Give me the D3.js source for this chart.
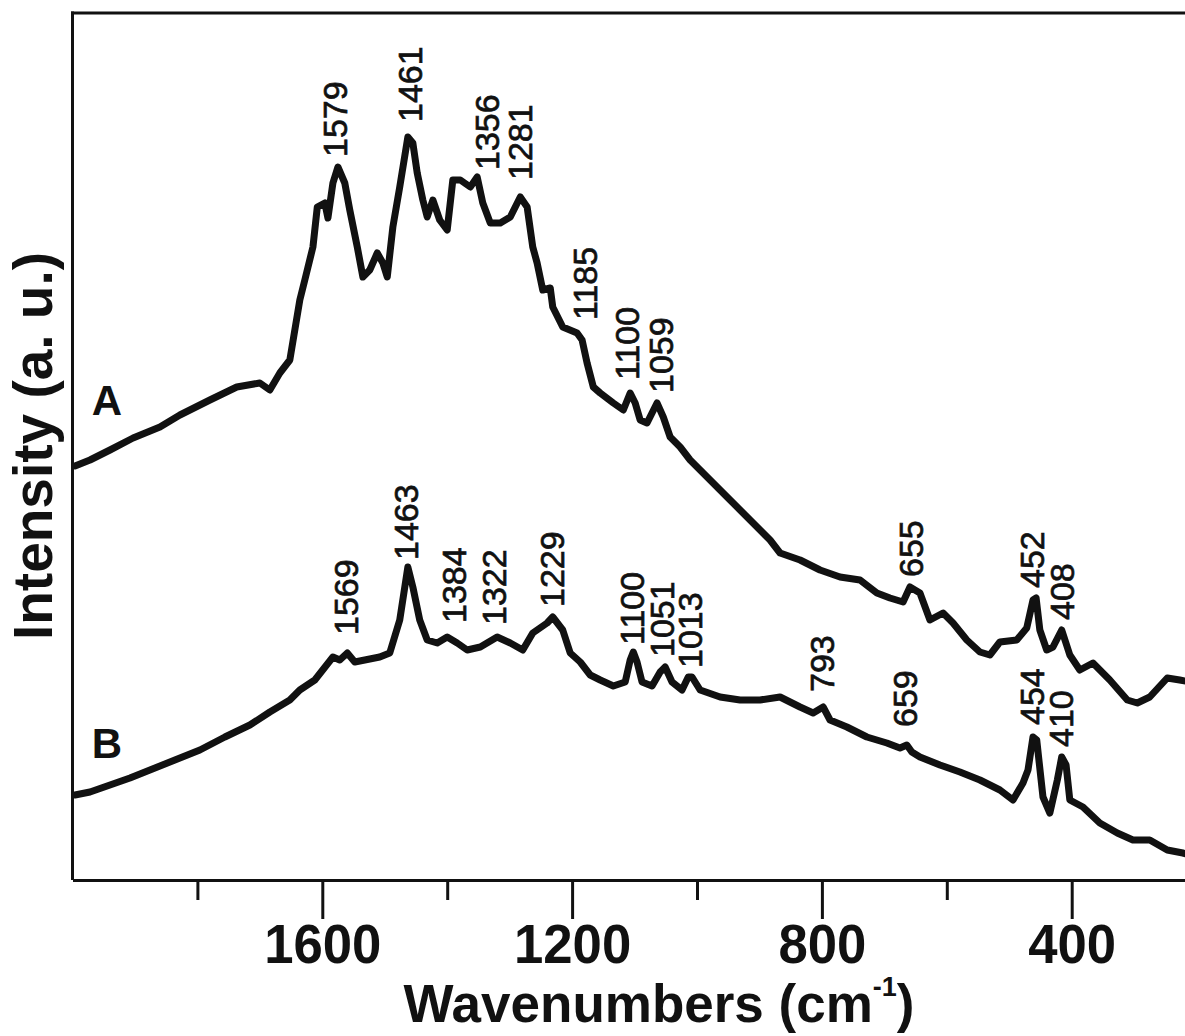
<!DOCTYPE html>
<html><head><meta charset="utf-8">
<script src="https://cdn.jsdelivr.net/npm/d3@7"></script>
<style>html,body{margin:0;padding:0;background:#fff;} svg{display:block;}</style>
</head><body>
<svg id="chart" width="1185" height="1036"></svg>
<script>
// ---- Data ----
const wavenumbersA = [1996,1972,1940,1903,1860,1828,1780,1737,1700,1684,1668,1652,1636,1628,1615,1608,1596,1591,1583,1575,1564,1556,1544,1535,1524,1512,1503,1496,1487,1476,1463,1455,1448,1439,1432,1423,1412,1400,1391,1379,1363,1352,1343,1331,1315,1299,1283,1272,1263,1256,1247,1235,1231,1215,1192,1184,1176,1166,1155,1134,1118,1107,1099,1091,1080,1064,1054,1043,1027,1011,995,979,963,947,931,915,899,883,867,835,803,771,739,712,691,670,659,643,627,606,590,568,547,531,515,488,472,462,457,451,440,430,416,403,387,366,339,311,295,275,247,227,210];
const intensityA   = [414,420,430,442,453,465,480,493,497,490,507,520,580,600,633,673,677,662,697,713,697,670,633,603,610,627,617,603,653,693,743,737,707,680,663,680,660,650,700,700,693,703,677,657,657,663,683,673,633,617,590,592,573,553,547,540,517,493,487,477,470,487,477,460,457,477,463,443,433,420,410,400,390,380,370,360,350,340,327,320,310,303,300,287,282,278,293,287,260,267,257,240,228,225,238,240,252,280,282,250,230,233,250,225,210,217,200,180,177,183,202,200,198];

const wavenumbersB = [1996,1972,1940,1908,1876,1836,1796,1756,1716,1684,1652,1636,1612,1583,1572,1560,1548,1532,1508,1492,1476,1463,1455,1444,1432,1416,1400,1384,1368,1347,1320,1299,1279,1263,1240,1231,1215,1203,1187,1171,1155,1134,1115,1107,1102,1096,1088,1072,1059,1051,1040,1024,1014,1008,995,963,931,899,867,851,835,814,798,787,760,728,696,675,664,656,643,611,579,547,515,494,478,470,462,456,446,435,423,416,409,403,382,355,327,302,275,247,222,210];
const intensityB   = [85,88,95,102,110,120,130,143,155,168,180,190,200,223,220,227,218,220,223,227,260,313,293,260,240,237,243,237,230,233,243,237,230,247,257,263,250,227,218,205,200,194,198,220,228,218,198,194,208,213,198,190,203,203,190,183,180,180,183,178,173,167,173,160,153,143,137,132,135,128,123,115,108,100,90,80,97,110,143,140,83,67,100,123,115,80,73,57,47,40,40,30,27,25];

// peak annotations: text, wavenumber of label centre, intensity at label foot
const peakTextA = ["1579","1461","1356","1281","1185","1100","1059","655","452","408"];
const peakWnA   = [1579,1460,1337,1283,1179,1112,1058,657,463,415];
const peakIntA  = [723,758,710,700,560,500,487,303,292,260];

const peakTextB = ["1569","1463","1384","1322","1229","1100","1051","1013","793","659","454","410"];
const peakWnB   = [1562,1466,1389,1325,1232,1104,1056,1011,800,667,463,417];
const peakIntB  = [245,320,257,255,273,235,223,212,188,153,155,133];

const majorTicks = [1600,1200,800,400];
const minorTicks = [1800,1400,1000,600];
const seriesNames = ["A","B"];
const seriesNameWn = [1945,1945];
const seriesNameInt = [465,122];

// ---- Drawing ----
const W = 1185, H = 1036;
const plotLeft = 72.5, plotTop = 13, plotBottom = 880;
const x = d3.scaleLinear().domain([2000, 200]).range([plotLeft, plotLeft + 1800 * 0.6245]);
const y = d3.scaleLinear().domain([0, 867]).range([plotBottom, plotTop]);
const FONT = 'Liberation Sans, Arial, sans-serif';

const svg = d3.select('#chart');
svg.append('rect').attr('width', W).attr('height', H).attr('fill', '#fff');

svg.append('clipPath').attr('id', 'plotclip')
  .append('rect').attr('x', plotLeft).attr('y', plotTop).attr('width', x(200) - plotLeft).attr('height', plotBottom - plotTop);

const line = d3.line().x(d => x(d[0])).y(d => y(d[1]));
const dataA = wavenumbersA.map((w, i) => [w, intensityA[i]]);
const dataB = wavenumbersB.map((w, i) => [w, intensityB[i]]);

const g = svg.append('g').attr('clip-path', 'url(#plotclip)');
[dataA, dataB].forEach(d => {
  g.append('path').datum(d).attr('d', line)
    .attr('fill', 'none').attr('stroke', '#111').attr('stroke-width', 7)
    .attr('stroke-linejoin', 'round').attr('stroke-linecap', 'round');
});

// frame
svg.append('line').attr('x1', plotLeft).attr('x2', plotLeft).attr('y1', plotTop - 1.5).attr('y2', plotBottom)
  .attr('stroke', '#111').attr('stroke-width', 3);
svg.append('line').attr('x1', plotLeft - 1.5).attr('x2', W + 5).attr('y1', plotTop).attr('y2', plotTop)
  .attr('stroke', '#111').attr('stroke-width', 3);

// x axis
const axMajor = d3.axisBottom(x).tickValues(majorTicks).tickSize(39).tickSizeOuter(0).tickFormat(d3.format('d'));
const axG = svg.append('g').attr('transform', `translate(0,${plotBottom})`).call(axMajor);
axG.select('.domain').attr('stroke', '#111').attr('stroke-width', 3);
axG.selectAll('.tick line').attr('stroke', '#111').attr('stroke-width', 3);
axG.selectAll('.tick text').attr('y', 83).attr('dy', 0)
  .attr('font-family', FONT).attr('font-weight', 'bold')
  .attr('font-size', 56).attr('fill', '#111')
  .attr('textLength', d => String(d).length * 29.3).attr('lengthAdjust', 'spacingAndGlyphs');

const axMinor = d3.axisBottom(x).tickValues(minorTicks).tickSize(20).tickSizeOuter(0).tickFormat('');
const axG2 = svg.append('g').attr('transform', `translate(0,${plotBottom})`).call(axMinor);
axG2.select('.domain').remove();
axG2.selectAll('.tick line').attr('stroke', '#111').attr('stroke-width', 3);

// axis titles
const xt = svg.append('text').attr('x', 659).attr('y', 1022).attr('text-anchor', 'middle')
  .attr('font-family', FONT).attr('font-weight', 'bold')
  .attr('font-size', 53).attr('fill', '#111');
xt.append('tspan').text('Wavenumbers (cm');
xt.append('tspan').text('-1').attr('font-size', 27).attr('dy', -26);
xt.append('tspan').text(')').attr('dy', 26);

svg.append('text').attr('transform', 'translate(52,446) rotate(-90)').attr('text-anchor', 'middle')
  .attr('font-family', FONT).attr('font-weight', 'bold')
  .attr('font-size', 55).attr('fill', '#111').text('Intensity (a. u.)');

// series names
seriesNames.forEach((n, i) => {
  svg.append('text').attr('x', x(seriesNameWn[i])).attr('y', y(seriesNameInt[i]))
    .attr('text-anchor', 'middle').attr('font-family', FONT)
    .attr('font-weight', 'bold').attr('font-size', 42).attr('fill', '#111').text(n);
});

// peak labels
function peaks(texts, wns, ints) {
  texts.forEach((t, i) => {
    svg.append('text')
      .attr('transform', `translate(${x(wns[i]) + 12},${y(ints[i])}) rotate(-90)`)
      .attr('font-family', FONT).attr('font-size', 34)
      .attr('fill', '#111').attr('stroke', '#111').attr('stroke-width', 0.7).text(t);
  });
}
peaks(peakTextA, peakWnA, peakIntA);
peaks(peakTextB, peakWnB, peakIntB);
</script>
</body></html>
